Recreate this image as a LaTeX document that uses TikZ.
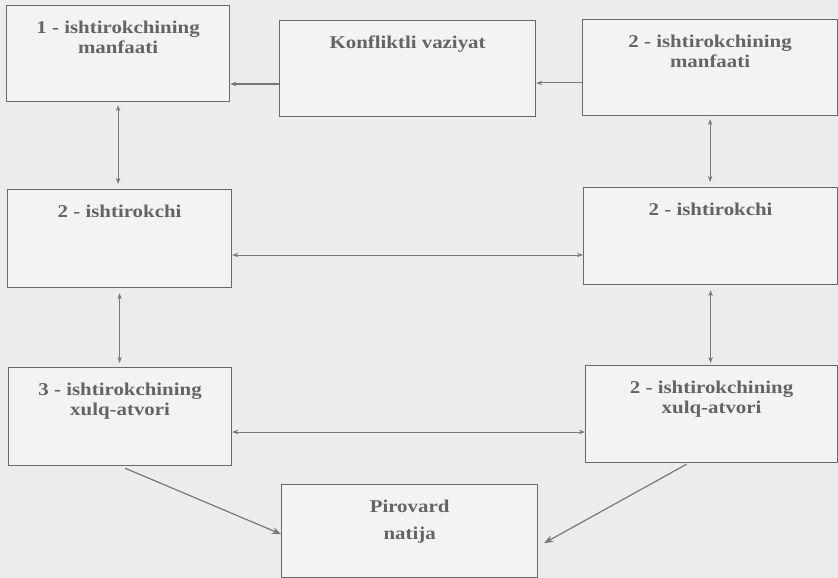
\documentclass[tikz,border=0pt]{standalone}
\usepackage{fontspec}
\setmainfont{Liberation Serif}[FakeStretch=1.16]
\usetikzlibrary{arrows.meta}
\definecolor{bgc}{RGB}{236,236,236}
\definecolor{boxf}{RGB}{243,243,243}
\definecolor{boxc}{RGB}{105,105,105}
\definecolor{txtc}{RGB}{100,100,100}
\definecolor{linec}{RGB}{120,120,120}
\begin{document}
\begin{tikzpicture}[x=1pt,y=-1pt,
  box/.style={draw=boxc, fill=boxf, line width=1.2pt, inner sep=0pt, anchor=north west},
  txt/.style={anchor=north, inner sep=0pt, align=center, text=txtc,
              font=\bfseries\fontsize{18}{20}\selectfont},
  conn/.style={draw=linec, line width=1pt},
  single/.style={conn, -{Stealth[length=6pt,width=4.5pt]}},
  dbl/.style={conn, {Stealth[length=6pt,width=4.5pt]}-{Stealth[length=6pt,width=4.5pt]}},
  bigarr/.style={conn, line width=1.2pt, -{Stealth[length=9pt,width=7pt]}}]
\fill[bgc] (0,0) rectangle (838,578);
\useasboundingbox (0,0) rectangle (838,578);

% boxes
\node[box, minimum width=223pt, minimum height=96pt] (A) at (6,5) {};
\node[box, minimum width=256pt, minimum height=96pt] (K) at (279,20) {};
\node[box, minimum width=255pt, minimum height=96pt] (B) at (582,19) {};
\node[box, minimum width=224pt, minimum height=98pt] (C) at (7,189) {};
\node[box, minimum width=254pt, minimum height=97pt] (D) at (583,187) {};
\node[box, minimum width=223pt, minimum height=98pt] (E) at (8,367) {};
\node[box, minimum width=252pt, minimum height=97pt] (F) at (585,365) {};
\node[box, minimum width=256pt, minimum height=93pt] (P) at (281,484) {};

% texts
\node[txt] (tA) at ([yshift=-15.5pt]A.north) {1 - ishtirokchining\\manfaati};
\node[txt] (tK) at ([yshift=-15.5pt]K.north) {Konfliktli vaziyat};
\node[txt] (tB) at ([yshift=-15.5pt]B.north) {2 - ishtirokchining\\manfaati};
\node[txt] (tC) at ([yshift=-15.5pt]C.north) {2 - ishtirokchi};
\node[txt] (tD) at ([yshift=-15.5pt]D.north) {2 - ishtirokchi};
\node[txt] (tE) at ([yshift=-15.5pt]E.north) {3 - ishtirokchining\\xulq-atvori};
\node[txt] (tF) at ([yshift=-15.5pt]F.north) {2 - ishtirokchining\\xulq-atvori};
\node[txt] (tP) at ([yshift=-15.5pt]P.north) {Pirovard\\[7pt]natija};

% helper coordinates for line heights
\coordinate (yKA) at (0,84);
\coordinate (yBK) at (0,83);
\coordinate (yCD) at (0,255);
\coordinate (yEF) at (0,432);

% horizontal connectors
\draw[single] (K.west |- yKA) -- (A.east |- yKA);
\draw[single] (B.west |- yBK) -- (K.east |- yBK);
\draw[dbl] (C.east |- yCD) -- (D.west |- yCD);
\draw[dbl] (E.east |- yEF) -- (F.west |- yEF);

% vertical connectors
\draw[dbl, shorten <=3pt, shorten >=5pt] (A.south) -- (A.south |- C.north);
\draw[dbl, shorten <=3pt, shorten >=5pt] (B.south) -- (B.south |- D.north);
\draw[dbl, shorten <=5pt, shorten >=4pt] (C.south) -- (C.south |- E.north);
\draw[dbl, shorten <=5pt, shorten >=2pt] (D.south) -- (D.south |- F.north);

% to final result
\draw[bigarr] ([xshift=5pt,yshift=-2pt]E.south) -- ([yshift=-3pt]P.west);
\draw[bigarr] ([xshift=-25pt,yshift=-1pt]F.south) -- ([xshift=6pt,yshift=-12pt]P.east);
\end{tikzpicture}
\end{document}
